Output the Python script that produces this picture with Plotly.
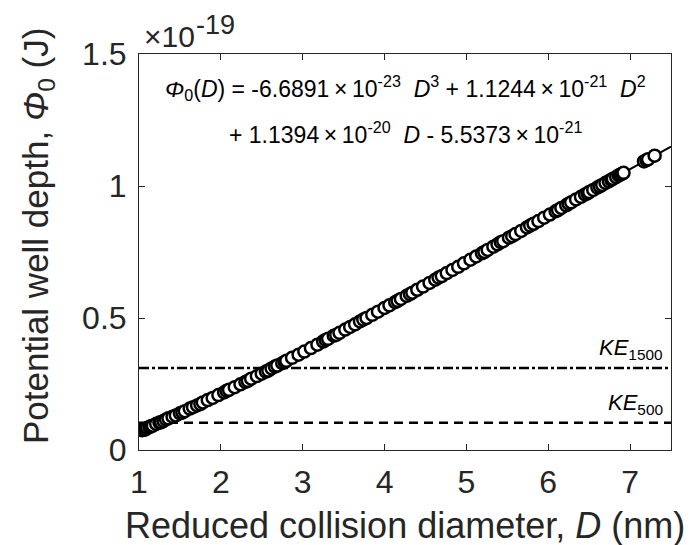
import plotly.graph_objects as go

# ---- data (energies in units of 1e-19 J) ----
D_points = [1.04, 1.07, 1.08, 1.10, 1.13, 1.15, 1.17, 1.21, 1.25, 1.27, 1.30, 1.33, 1.36, 1.41,
            1.45, 1.50, 1.53, 1.56, 1.62, 1.66, 1.71, 1.75, 1.78, 1.84, 1.90, 1.97, 2.04, 2.07,
            2.10, 2.17, 2.24, 2.30, 2.33, 2.37, 2.44, 2.50, 2.55, 2.58, 2.62, 2.66, 2.69, 2.75,
            2.78, 2.80, 2.87, 2.95, 3.02, 3.10, 3.18, 3.25, 3.28, 3.31, 3.38, 3.41, 3.45, 3.52,
            3.58, 3.64, 3.70, 3.74, 3.78, 3.85, 3.92, 4.00, 4.06, 4.13, 4.16, 4.20, 4.27, 4.31,
            4.34, 4.40, 4.47, 4.55, 4.62, 4.66, 4.70, 4.76, 4.83, 4.90, 4.97, 5.05, 5.12, 5.19,
            5.22, 5.26, 5.33, 5.38, 5.42, 5.45, 5.52, 5.56, 5.60, 5.67, 5.74, 5.78, 5.82, 5.88,
            5.95, 6.02, 6.09, 6.12, 6.16, 6.22, 6.25, 6.28, 6.34, 6.40, 6.45, 6.48, 6.50, 6.55,
            6.60, 6.63, 6.66, 6.70, 6.74, 6.77, 6.79, 6.83, 6.86, 6.88, 6.90, 6.92, 7.17, 7.20,
            7.22, 7.30]
phi_points = [0.075, 0.078, 0.078, 0.084, 0.087, 0.091, 0.092, 0.099, 0.104, 0.105, 0.110, 0.116, 0.120, 0.126,
              0.131, 0.139, 0.142, 0.147, 0.157, 0.162, 0.169, 0.174, 0.180, 0.189, 0.197, 0.208, 0.218, 0.224,
              0.228, 0.238, 0.249, 0.258, 0.262, 0.270, 0.280, 0.289, 0.297, 0.301, 0.309, 0.316, 0.320, 0.329,
              0.333, 0.338, 0.349, 0.361, 0.373, 0.386, 0.399, 0.411, 0.417, 0.421, 0.433, 0.436, 0.444, 0.456,
              0.466, 0.476, 0.487, 0.494, 0.500, 0.512, 0.524, 0.538, 0.548, 0.560, 0.565, 0.572, 0.584, 0.590,
              0.596, 0.607, 0.619, 0.633, 0.645, 0.653, 0.659, 0.670, 0.682, 0.694, 0.707, 0.721, 0.733, 0.745,
              0.750, 0.758, 0.770, 0.779, 0.787, 0.791, 0.804, 0.810, 0.818, 0.830, 0.843, 0.850, 0.857, 0.867,
              0.880, 0.892, 0.904, 0.909, 0.917, 0.927, 0.933, 0.938, 0.949, 0.959, 0.968, 0.972, 0.977, 0.985,
              0.994, 0.999, 1.004, 1.012, 1.018, 1.024, 1.027, 1.034, 1.040, 1.043, 1.046, 1.050, 1.093, 1.098,
              1.101, 1.115]

fit_D = [1.0, 1.5, 2.0, 2.5, 3.0, 3.5, 4.0, 4.5, 5.0, 5.5, 6.0, 6.5, 7.0, 7.5]
fit_phi = [0.0691, 0.1386, 0.2121, 0.2893, 0.3696, 0.4525, 0.5375, 0.6241, 0.7118,
           0.8001, 0.8886, 0.9766, 1.0637, 1.1495]

KE_1500 = 0.3107
KE_500 = 0.1035

x_range = [1, 7.5]
y_range = [0, 1.5]
x_ticks = [1, 2, 3, 4, 5, 6, 7]
y_ticks = [0, 0.5, 1, 1.5]
y_ticklabels = ["0", "0.5", "1", "1.5"]

FONT = "Liberation Sans, Arial, Helvetica, sans-serif"
DARK = "#262626"
TS = "\u2009"  # thin space around the times sign

fig = go.Figure()

fig.add_trace(go.Scatter(x=x_range, y=[KE_1500, KE_1500], mode="lines",
                         line=dict(color="black", width=2.5, dash="10px,3px,3px,3px"),
                         showlegend=False, hoverinfo="skip"))
fig.add_trace(go.Scatter(x=x_range, y=[KE_500, KE_500], mode="lines",
                         line=dict(color="black", width=2.5, dash="9px,6px"),
                         showlegend=False, hoverinfo="skip"))
fig.add_trace(go.Scatter(x=fit_D, y=fit_phi, mode="lines", line_shape="spline",
                         line=dict(color="black", width=2),
                         showlegend=False))
fig.add_trace(go.Scatter(x=D_points, y=phi_points, mode="markers",
                         marker=dict(symbol="circle", size=12, color="white",
                                     line=dict(color="black", width=2.5)),
                         showlegend=False))

axis_common = dict(showline=True, linecolor=DARK, linewidth=1, mirror="ticks",
                   ticks="inside", ticklen=6, tickwidth=1, tickcolor=DARK,
                   showgrid=False, zeroline=False, automargin=False,
                   tickfont=dict(family=FONT, size=32, color=DARK))

fig.update_xaxes(range=x_range, tickvals=x_ticks, ticklabelstandoff=4, **axis_common)
fig.update_yaxes(range=y_range, tickvals=y_ticks, ticktext=y_ticklabels,
                 ticklabelstandoff=5, **axis_common)

def times(a, e):
    return f"{a}{TS}×{TS}10<sup>{e}</sup>"

ann = []
# axis titles
ann.append(dict(text="Reduced collision diameter, <i>D</i> (nm)", xref="paper", yref="paper",
                x=0.5, y=-0.19, xanchor="center", yanchor="middle", showarrow=False,
                font=dict(family=FONT, size=36, color=DARK)))
ann.append(dict(text="Potential well depth, <i>Φ</i><sub>0</sub> (J)", xref="paper", yref="paper",
                x=-0.19, y=0.54, xanchor="center", yanchor="middle", textangle=-90, showarrow=False,
                font=dict(family=FONT, size=35, color=DARK)))
# exponent label (x10^-19)
ann.append(dict(text="×10", xref="paper", yref="paper", x=0.006, y=1.044,
                xanchor="left", yanchor="middle", showarrow=False,
                font=dict(family=FONT, size=30, color=DARK)))
ann.append(dict(text="-19", xref="paper", yref="paper", x=0.104, y=1.074,
                xanchor="left", yanchor="middle", showarrow=False,
                font=dict(family=FONT, size=27, color=DARK)))
# formula
line1 = ("<i>Φ</i><sub>0</sub>(<i>D</i>) = " + times("-6.6891", "-23") + "  <i>D</i><sup>3</sup>"
         " + " + times("1.1244", "-21") + "  <i>D</i><sup>2</sup>")
line2 = "+ " + times("1.1394", "-20") + "  <i>D</i> - " + times("5.5373", "-21")
ann.append(dict(text=line1, xref="paper", yref="y", x=0.5, y=1.371, xanchor="center",
                yanchor="middle", showarrow=False, font=dict(family=FONT, size=23, color="black")))
ann.append(dict(text=line2, xref="paper", yref="y", x=0.5, y=1.201, xanchor="center",
                yanchor="middle", showarrow=False, font=dict(family=FONT, size=23, color="black")))
# KE labels
ann.append(dict(text="<i>KE</i><sub>1500</sub>", xref="x", yref="y", x=7.43, y=KE_1500,
                xanchor="right", yanchor="bottom", yshift=3, showarrow=False,
                font=dict(family=FONT, size=22, color="black")))
ann.append(dict(text="<i>KE</i><sub>500</sub>", xref="x", yref="y", x=7.43, y=KE_500,
                xanchor="right", yanchor="bottom", yshift=3, showarrow=False,
                font=dict(family=FONT, size=22, color="black")))

fig.update_layout(width=695, height=545, margin=dict(l=131, r=32, t=46, b=103),
                  paper_bgcolor="white", plot_bgcolor="white",
                  font=dict(family=FONT, color=DARK), annotations=ann)

fig.write_html("out.html")
